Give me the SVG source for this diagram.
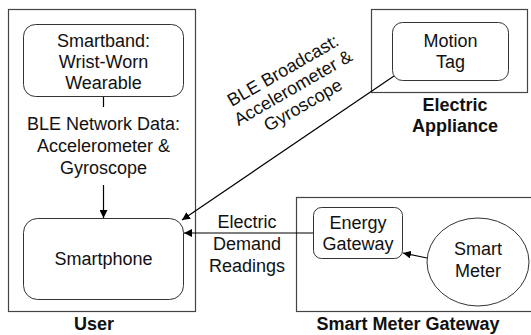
<svg xmlns="http://www.w3.org/2000/svg" width="531" height="335" viewBox="0 0 531 335">
<style>
.box{fill:none;stroke:#444;stroke-width:1.2}
.node{fill:#fff;stroke:#333;stroke-width:1}
.t{font-family:"Liberation Sans",Arial,sans-serif;font-size:18px;fill:#111;text-anchor:middle}
.b{font-family:"Liberation Sans",Arial,sans-serif;font-size:18px;font-weight:bold;fill:#111;text-anchor:middle}
.c{fill:none;stroke:#000;stroke-width:1.2}
</style>
<defs>
<marker id="ah" viewBox="0 0 10 10" refX="10" refY="5" markerWidth="8" markerHeight="8" markerUnits="userSpaceOnUse" orient="auto">
<path d="M0,0 L10,5 L0,10 z" fill="#000"/>
</marker>
</defs>
<g id="user">
<rect class="box" x="8.5" y="9.5" width="187" height="302"/>
<text class="b" x="94" y="330">User</text>
</g>
<g id="appliance">
<rect class="box" x="371.5" y="9.5" width="156" height="83"/>
<text class="b" x="455" y="111">Electric</text>
<text class="b" x="455" y="132">Appliance</text>
</g>
<g id="smg">
<rect class="box" x="296.5" y="197.5" width="240" height="114"/>
<text class="b" x="408" y="330">Smart Meter Gateway</text>
</g>
<g id="smartband">
<rect class="node" x="23.5" y="24.5" width="160" height="72" rx="12"/>
<text class="t" x="103.5" y="47">Smartband:</text>
<text class="t" x="103.5" y="68">Wrist-Worn</text>
<text class="t" x="103.5" y="89">Wearable</text>
</g>
<g id="smartphone">
<rect class="node" x="23.5" y="218.5" width="160" height="81" rx="14"/>
<text class="t" x="103.5" y="265">Smartphone</text>
</g>
<g id="motiontag">
<rect class="node" x="392.5" y="22.5" width="116" height="58" rx="10"/>
<text class="t" x="450.5" y="47">Motion</text>
<text class="t" x="450.5" y="68">Tag</text>
</g>
<g id="energygateway">
<rect class="node" x="313.5" y="207.5" width="89" height="51" rx="8"/>
<text class="t" x="358" y="229">Energy</text>
<text class="t" x="358" y="250">Gateway</text>
</g>
<g id="smartmeter">
<ellipse class="node" cx="478" cy="262" rx="51" ry="44"/>
<text class="t" x="478" y="255">Smart</text>
<text class="t" x="478" y="277">Meter</text>
</g>
<g id="connectors">
<line class="c" x1="103.5" y1="97" x2="103.5" y2="107"/>
<line class="c" x1="103.5" y1="185" x2="103.5" y2="218" marker-end="url(#ah)"/>
<line class="c" x1="394" y1="76" x2="182" y2="220" marker-end="url(#ah)"/>
<line class="c" x1="313" y1="233" x2="184" y2="233" marker-end="url(#ah)"/>
<line class="c" x1="427" y1="258" x2="403" y2="253" marker-end="url(#ah)"/>
<text class="t" x="103.5" y="130">BLE Network Data:</text>
<text class="t" x="103.5" y="152">Accelerometer &amp;</text>
<text class="t" x="103.5" y="174">Gyroscope</text>
<text class="t" x="247" y="228">Electric</text>
<text class="t" x="247" y="250">Demand</text>
<text class="t" x="247" y="272">Readings</text>
<g transform="translate(296,93) rotate(-30)">
<text class="t" x="0" y="-20">BLE Broadcast:</text>
<text class="t" x="0" y="0">Accelerometer &amp;</text>
<text class="t" x="0" y="20">Gyroscope</text>
</g>
</g>
</svg>
